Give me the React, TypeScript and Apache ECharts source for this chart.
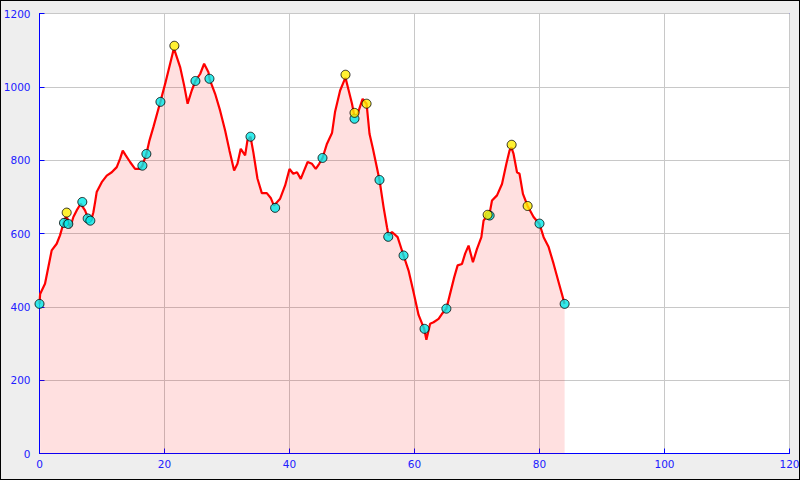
import React, { useEffect, useRef } from "react";
import * as echarts from "echarts";

const distanceKm = [
  0, 0.1, 0.88, 1.41, 1.95, 2.75, 3.28, 3.8, 4.19, 4.5, 4.88, 5.42, 5.95, 6.59, 7.28, 7.82, 8.25, 8.62, 8.89, 9.15,
  9.96, 10.76, 11.56, 12.36, 12.9, 13.32, 13.8, 14.49, 15.29, 16.09, 16.46, 17.1, 17.6, 18.22, 19.35, 20.1, 20.9,
  21.42, 21.6, 22.5, 23.14, 23.7, 24.36, 24.95, 25.7, 26.34, 27.03, 27.2, 28.1, 28.9, 29.7, 30.4, 31.14, 31.67, 32.2,
  32.9, 33.27, 33.76, 34.23, 34.87, 35.57, 36.37, 37.0, 37.5, 38.5, 39.3, 40.0, 40.6, 41.2, 41.8, 42.35, 42.9, 43.6,
  44.2, 44.75, 45.28, 46.0, 46.8, 47.3, 48.1, 48.75, 48.96, 49.6, 50.0, 50.4, 50.9, 51.7, 52.33, 52.8, 53.35, 54.4,
  55.05, 55.6, 55.85, 56.4, 57.3, 58.25, 59.05, 59.85, 60.65, 61.55, 61.9, 62.5, 63.05, 63.85, 64.4, 65.1, 65.7,
  66.36, 66.9, 67.6, 68.1, 68.65, 69.35, 70.0, 70.7, 71.05, 71.7, 72.02, 72.4, 73.2, 74.0, 74.7, 75.2, 75.5, 75.85,
  76.4, 76.8, 77.35, 78.1, 79.05, 80.0, 80.66, 81.46, 82.26, 83.06, 84.02,
];
const elevationM = [
  408, 435, 463, 508, 554, 572, 595, 626, 645, 640, 615, 645, 663, 681, 663, 640, 635, 658, 685, 713,
  740, 758, 767, 781, 804, 826, 813, 795, 776, 776, 785, 817, 854, 890, 960, 1008, 1063,
  1099, 1100, 1054, 1004, 954, 990, 1016, 1035, 1063, 1040, 1022, 981, 935, 881, 826, 772, 790, 831,
  813, 854, 864, 820, 750, 710, 710, 697, 676, 695, 731, 776, 763, 767, 749, 772, 795, 790,
  776, 790, 806, 845, 874, 933, 990, 1017, 1025, 981, 954, 918, 926, 967, 954, 872, 831, 746,
  672, 617, 595, 604, 590, 540, 499, 440, 378, 340, 310, 354, 358, 367, 381, 395, 436,
  481, 513, 517, 545, 567, 522, 558, 590, 635, 651, 655, 690, 704, 735, 790, 826, 835, 817,
  767, 763, 708, 675, 645, 626, 590, 563, 517, 467, 408,
];

const cyanX = [0, 3.92, 4.61, 6.85, 7.71, 8.13, 16.46, 17.1, 19.35, 24.95, 27.19, 33.76, 37.7, 45.28, 50.4, 54.4, 55.8, 58.25, 61.6, 65.1, 72.02, 80.0, 84.02];
const cyanY = [408, 629, 626, 686, 641, 635, 785, 817, 959, 1016, 1022, 864, 670, 806, 913, 746, 591, 540, 340, 395, 649, 627, 408];
const yellowX = [4.35, 21.58, 48.96, 50.4, 52.33, 71.7, 75.54, 78.1];
const yellowY = [657, 1112, 1033, 929, 954, 651, 842, 675];

const xTicks = [0, 20, 40, 60, 80, 100, 120];
const yTicks = [0, 200, 400, 600, 800, 1000, 1200];

export default function App() {
  const ref = useRef<HTMLDivElement>(null);
  useEffect(() => {
    document.body.style.margin = "0";
    if (!ref.current) return;
    const chart = echarts.init(ref.current, null, { renderer: "svg" });
    const axisBlue = "#0000ff";
    const labelBlue = "#2020ff";
    const labelFont = { color: labelBlue, fontSize: 10.5, fontFamily: "DejaVu Sans" };
    chart.setOption({
      animation: false,
      backgroundColor: "#eeeeee",
      grid: {
        left: 38.5,
        right: 9.5,
        top: 12.5,
        bottom: 25.5,
        outerBoundsMode: "none",
        containLabel: false,
        show: true,
        backgroundColor: "#ffffff",
        borderColor: axisBlue,
        borderWidth: 1,
      },
      xAxis: {
        type: "value",
        min: xTicks[0],
        max: xTicks[xTicks.length - 1],
        interval: xTicks[1] - xTicks[0],
        axisLine: { show: true, onZero: false, lineStyle: { color: axisBlue } },
        axisTick: { show: true, inside: true, length: 5, lineStyle: { color: axisBlue } },
        axisLabel: { ...labelFont, margin: 5, formatter: (v: number) => String(v) },
        splitLine: { show: true, lineStyle: { color: "#c8c8c8", width: 1 } },
      },
      yAxis: {
        type: "value",
        min: yTicks[0],
        max: yTicks[yTicks.length - 1],
        interval: yTicks[1] - yTicks[0],
        axisLine: { show: true, onZero: false, lineStyle: { color: axisBlue } },
        axisTick: { show: true, inside: true, length: 5, lineStyle: { color: axisBlue } },
        axisLabel: { ...labelFont, margin: 9, formatter: (v: number) => String(v) },
        splitLine: { show: true, lineStyle: { color: "#c8c8c8", width: 1 } },
      },
      series: [
        {
          type: "line",
          data: distanceKm.map((d, i) => [d, elevationM[i]]),
          showSymbol: false,
          symbol: "none",
          lineStyle: { color: "#ff0000", width: 2.2 },
          areaStyle: { color: "rgba(255,0,0,0.12)", opacity: 1, origin: "start" },
          z: 2,
        },
        {
          type: "scatter",
          data: cyanX.map((d, i) => [d, cyanY[i]]),
          symbol: "circle",
          symbolSize: 9,
          itemStyle: { color: "#00e8e8", borderColor: "#000000", borderWidth: 1 },
          z: 3,
        },
        {
          type: "scatter",
          data: yellowX.map((d, i) => [d, yellowY[i]]),
          symbol: "circle",
          symbolSize: 9,
          itemStyle: { color: "#ffee00", borderColor: "#000000", borderWidth: 1 },
          z: 4,
        },
      ],
    });
    return () => chart.dispose();
  }, []);
  return (
    <div
      style={{
        width: 800,
        height: 480,
        boxSizing: "border-box",
        border: "1px solid #000",
        background: "#eeeeee",
        overflow: "hidden",
      }}
    >
      <div ref={ref} style={{ width: 798, height: 478 }} />
    </div>
  );
}
